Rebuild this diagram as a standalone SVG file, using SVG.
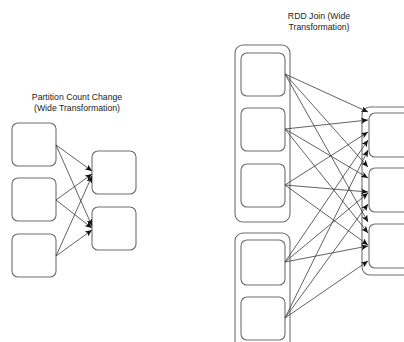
<svg xmlns="http://www.w3.org/2000/svg" width="404" height="342" viewBox="0 0 404 342">
  <style>
    .box { fill: #ffffff; stroke: #6e6e6e; stroke-width: 1.1; }
    .label { font-family: "Liberation Sans", Arial, sans-serif; font-size: 8.7px; fill: #222; text-anchor: middle; }
    .edge { fill: none; stroke: #3a3a3a; stroke-width: 0.8; marker-end: url(#arrow); }
  </style>
  <defs>
    <marker id="arrow" markerUnits="userSpaceOnUse" markerWidth="8" markerHeight="6" refX="7" refY="3" orient="auto">
      <path d="M0,0 L7,3 L0,6 L1.8,3 Z" fill="#111"/>
    </marker>
  </defs>
  <rect width="404" height="342" fill="#ffffff"/>

  <!-- Partition count change panel -->
  <g id="title-partition">
    <text class="label" x="77" y="100">Partition Count Change</text>
    <text class="label" x="77" y="111">(Wide Transformation)</text>
  </g>
  <g id="p-in-1"><rect class="box" x="12" y="123" width="44" height="43" rx="6"/></g>
  <g id="p-in-2"><rect class="box" x="12" y="178" width="44" height="43" rx="6"/></g>
  <g id="p-in-3"><rect class="box" x="12" y="234" width="44" height="43" rx="6"/></g>
  <g id="p-out-1"><rect class="box" x="92" y="151" width="44" height="43" rx="6"/></g>
  <g id="p-out-2"><rect class="box" x="92" y="207" width="44" height="43" rx="6"/></g>

  <!-- RDD join panel -->
  <g id="title-join">
    <text class="label" x="319" y="19">RDD Join (Wide</text>
    <text class="label" x="319" y="30">Transformation)</text>
  </g>
  <g id="rdd-a">
    <rect class="box" x="235" y="45" width="55" height="177" rx="8"/>
    <rect class="box" x="241" y="53" width="44" height="43" rx="6"/>
    <rect class="box" x="241" y="108" width="44" height="43" rx="6"/>
    <rect class="box" x="241" y="164" width="44" height="43" rx="6"/>
  </g>
  <g id="rdd-b">
    <rect class="box" x="235" y="233" width="55" height="130" rx="8"/>
    <rect class="box" x="241" y="240" width="44" height="45" rx="6"/>
    <rect class="box" x="241" y="297" width="44" height="43" rx="6"/>
  </g>
  <g id="rdd-joined">
    <rect class="box" x="362" y="107" width="70" height="168" rx="8"/>
    <rect class="box" x="369" y="113" width="60" height="44" rx="6"/>
    <rect class="box" x="369" y="168" width="60" height="44" rx="6"/>
    <rect class="box" x="369" y="224" width="60" height="44" rx="6"/>
  </g>

  <g id="connectors">
    <!-- partition count change -->
    <line class="edge" x1="56" y1="145" x2="92" y2="171"/>
    <line class="edge" x1="56" y1="145" x2="92" y2="226"/>
    <line class="edge" x1="56" y1="200" x2="92" y2="174"/>
    <line class="edge" x1="56" y1="200" x2="92" y2="228"/>
    <line class="edge" x1="56" y1="256" x2="92" y2="176"/>
    <line class="edge" x1="56" y1="256" x2="92" y2="230"/>
    <!-- join: every source partition to every joined partition -->
    <line class="edge" x1="285" y1="74" x2="368" y2="112"/>
    <line class="edge" x1="285" y1="74" x2="368" y2="167"/>
    <line class="edge" x1="285" y1="74" x2="368" y2="222"/>
    <line class="edge" x1="285" y1="129" x2="368" y2="120"/>
    <line class="edge" x1="285" y1="129" x2="368" y2="178"/>
    <line class="edge" x1="285" y1="129" x2="368" y2="233"/>
    <line class="edge" x1="285" y1="185" x2="368" y2="132"/>
    <line class="edge" x1="285" y1="185" x2="368" y2="192"/>
    <line class="edge" x1="285" y1="185" x2="368" y2="245"/>
    <line class="edge" x1="285" y1="262" x2="368" y2="140"/>
    <line class="edge" x1="285" y1="262" x2="368" y2="193"/>
    <line class="edge" x1="285" y1="262" x2="368" y2="246"/>
    <line class="edge" x1="285" y1="318" x2="368" y2="150"/>
    <line class="edge" x1="285" y1="318" x2="368" y2="204"/>
    <line class="edge" x1="285" y1="318" x2="368" y2="261"/>
  </g>
</svg>
